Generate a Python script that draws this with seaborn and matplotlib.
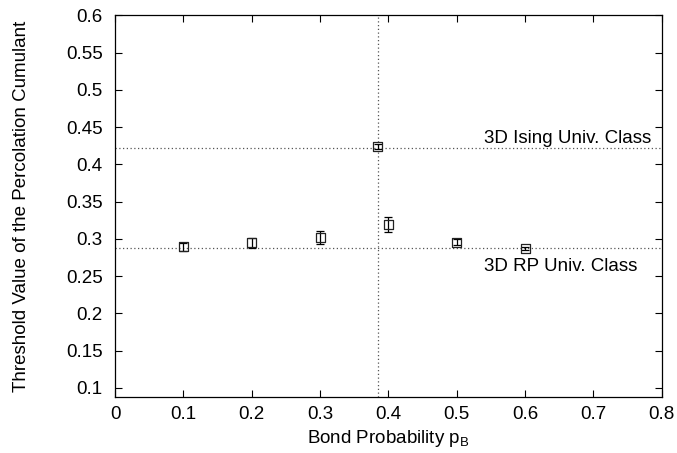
import numpy as np
import pandas as pd
import seaborn as sns
import matplotlib.pyplot as plt
import matplotlib.ticker as ticker

# measured threshold values of the percolation cumulant
bond_prob = [0.1, 0.2, 0.3, 0.3844, 0.4, 0.5, 0.6]
threshold = [0.2893, 0.2946, 0.3019, 0.4240, 0.3193, 0.2952, 0.2871]
threshold_err = [0.005, 0.0065, 0.009, 0.003, 0.010, 0.004, 0.002]

# reference lines
p_critical = 0.3844
ising_value = 0.4224
rp_value = 0.2871
ising_label = "3D Ising Univ. Class"
rp_label = "3D RP Univ. Class"

x_ticks = [0, 0.1, 0.2, 0.3, 0.4, 0.5, 0.6, 0.7, 0.8]
y_ticks = [0.1, 0.15, 0.2, 0.25, 0.3, 0.35, 0.4, 0.45, 0.5, 0.55, 0.6]

df = pd.DataFrame({"p": bond_prob, "value": threshold, "err": threshold_err})

sns.set_theme(style="ticks")
plt.rcParams["font.family"] = ["Liberation Sans", "DejaVu Sans"]
plt.rcParams["mathtext.fontset"] = "custom"
plt.rcParams["mathtext.rm"] = "Liberation Sans"
plt.rcParams["text.color"] = "black"
plt.rcParams["axes.labelcolor"] = "black"

fig, ax = plt.subplots(figsize=(6.77, 4.53), dpi=100)
fig.subplots_adjust(left=0.170, right=0.9774, top=0.9662, bottom=0.1243)

# reference lines
ax.axvline(p_critical, color="#555555", linestyle=(0, (1, 2)), linewidth=0.9, zorder=1)
ax.axhline(ising_value, color="#555555", linestyle=(0, (1, 2)), linewidth=0.9, zorder=1)
ax.axhline(rp_value, color="#555555", linestyle=(0, (1, 2)), linewidth=0.9, zorder=1)

ax.errorbar(df["p"], df["value"], yerr=df["err"], fmt="none", ecolor="black",
            elinewidth=0.9, capsize=3, capthick=0.9, zorder=2)
sns.scatterplot(data=df, x="p", y="value", marker="s", s=42, facecolor="none",
                edgecolor="#222222", linewidth=0.9, ax=ax, zorder=3)

ax.text(0.784, 0.4345, ising_label, ha="right", va="center", fontsize=13.5)
ax.text(0.765, 0.2625, rp_label, ha="right", va="center", fontsize=13.5)

ax.set_xlim(0, 0.8)
ax.set_ylim(0.0882, 0.6)
ax.xaxis.set_major_locator(ticker.FixedLocator(x_ticks))
ax.yaxis.set_major_locator(ticker.FixedLocator(y_ticks))
ax.set_xticklabels([f"{t:g}" for t in x_ticks])
ax.set_yticklabels([f"{t:g}" for t in y_ticks])
ax.tick_params(direction="in", length=5, width=0.8, top=True, right=True,
               labelsize=13.5, colors="black")
ax.tick_params(axis="y", pad=9)
ax.tick_params(axis="x", pad=7)
for s in ax.spines.values():
    s.set_linewidth(0.9)
    s.set_color("black")

ax.set_xlabel(r"Bond Probability p$_\mathregular{B}$", fontsize=13.5, labelpad=3)
ax.set_ylabel("Threshold Value of the Percolation Cumulant", fontsize=13.5, labelpad=26)

plt.savefig("out.png", dpi=100)
